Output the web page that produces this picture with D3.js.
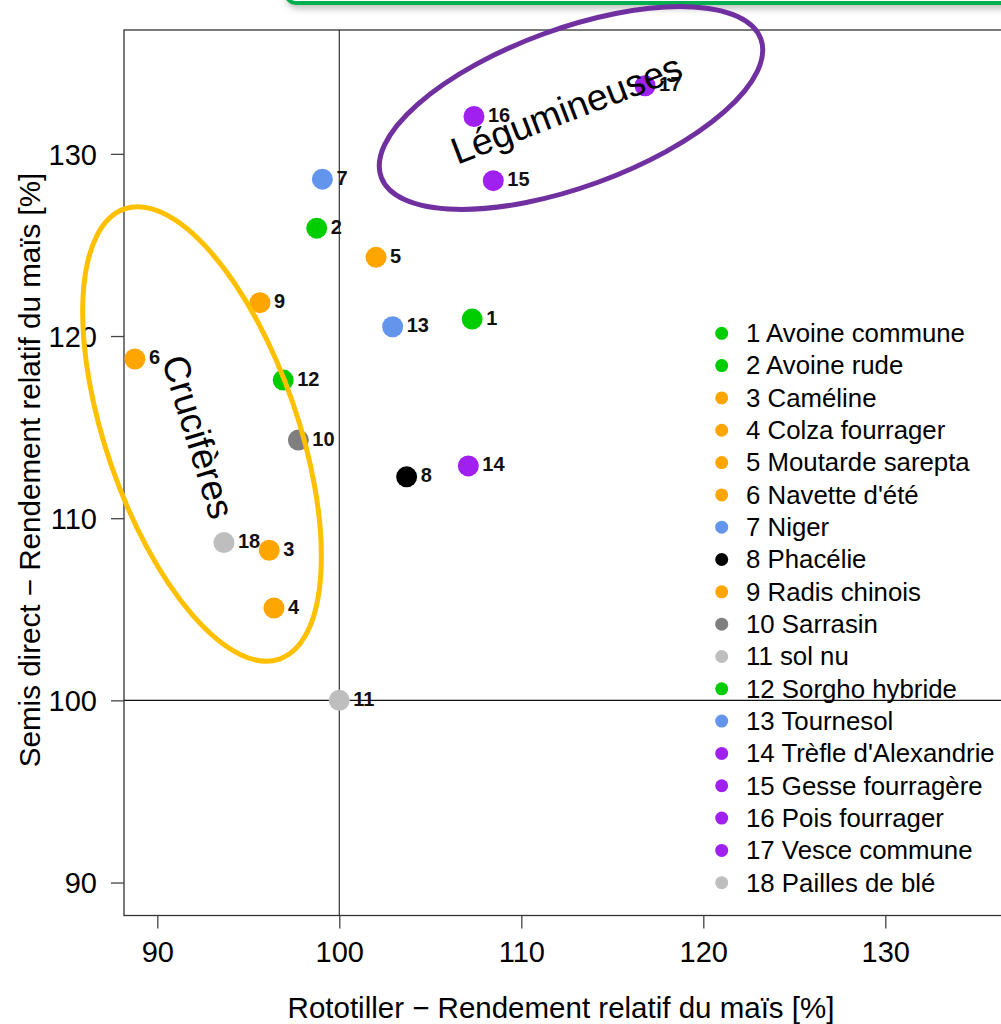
<!DOCTYPE html>
<html>

<head>
  <meta charset='utf-8'>
  <script type="text/javascript" src="https://cdn.jsdelivr.net/npm/d3@7/dist/d3.min.js"></script>
  <style>
    body { margin: 0; background: #fff; }
    svg text { font-family: "Liberation Sans", Arial, sans-serif; }
  </style>
</head>

<body>
</body>
<script>
  // data
  let ids = [1, 2, 3, 4, 5, 6, 7, 8, 9, 10, 11, 12, 13, 14, 15, 16, 17, 18]
  let names = ["Avoine commune", "Avoine rude", "Caméline", "Colza fourrager", "Moutarde sarepta",
    "Navette d'été", "Niger", "Phacélie", "Radis chinois", "Sarrasin", "sol nu", "Sorgho hybride",
    "Tournesol", "Trèfle d'Alexandrie", "Gesse fourragère", "Pois fourrager", "Vesce commune", "Pailles de blé"]
  let rototiller = [107.3, 98.76, 96.15, 96.41, 102.02, 88.77, 99.07, 103.7, 95.64, 97.75, 100, 96.92,
    102.93, 107.09, 108.46, 107.4, 116.8, 93.66]
  let semis = [120.93, 125.92, 108.24, 105.07, 124.32, 118.74, 128.61, 112.27, 121.83, 114.29, 100, 117.58,
    120.51, 112.87, 128.53, 132.05, 133.74, 108.66]
  let colors = ["#00CD00", "#00CD00", "#FFA500", "#FFA500", "#FFA500", "#FFA500", "#6495ED", "#000000",
    "#FFA500", "#7F7F7F", "#BEBEBE", "#00CD00", "#6495ED", "#A020F0", "#A020F0", "#A020F0", "#A020F0", "#BEBEBE"]
  let ticks = [90, 100, 110, 120, 130]

  let w = 1001
  let h = 1024
  let pLeft = 124, pTop = 30, pBottom = 915.5, pRight = 1012.7

  let xScale = d3.scaleLinear()
    .domain([88.17, 137])
    .range([pLeft, pRight])
  let yScale = d3.scaleLinear()
    .domain([88.19, 136.8])
    .range([pBottom, pTop])

  let svg = d3.select('body')
    .append('svg')
    .attr('width', w)
    .attr('height', h)

  // slide box at top
  let defs = svg.append("defs")
  let f = defs.append("filter").attr("id", "shadow").attr("x", "-10%").attr("y", "-50%").attr("width", "130%").attr("height", "300%")
  f.append("feDropShadow").attr("dx", 2).attr("dy", 4).attr("stdDeviation", 3)
    .attr("flood-color", "#888").attr("flood-opacity", 0.5)
  svg.append("rect")
    .attr("x", 286).attr("y", -60).attr("width", 800).attr("height", 63).attr("rx", 10)
    .attr("fill", "#fff").attr("stroke", "#00B050").attr("stroke-width", 4)
    .attr("filter", "url(#shadow)")

  // box
  svg.append("rect")
    .attr("x", pLeft).attr("y", pTop)
    .attr("width", pRight - pLeft).attr("height", pBottom - pTop)
    .attr("fill", "none").attr("stroke", "#333").attr("stroke-width", 1.3)

  // reference lines
  svg.append("line")
    .attr("x1", xScale(100)).attr("x2", xScale(100))
    .attr("y1", pTop).attr("y2", pBottom)
    .attr("stroke", "#333").attr("stroke-width", 1.2)
  svg.append("line")
    .attr("x1", pLeft).attr("x2", w)
    .attr("y1", yScale(100)).attr("y2", yScale(100))
    .attr("stroke", "#111").attr("stroke-width", 1.2)

  //axis
  let xAxis = d3.axisBottom(xScale).tickValues(ticks).tickSize(13).tickPadding(13)
  let gx = svg.append("g")
    .attr("transform", "translate(0," + pBottom + ")")
    .call(xAxis)
  let yAxis = d3.axisLeft(yScale).tickValues(ticks).tickSize(13).tickPadding(14)
  let gy = svg.append("g")
    .attr("transform", "translate(" + pLeft + ",0)")
    .call(yAxis)
  svg.selectAll(".domain").remove()
  svg.selectAll(".tick line").attr("stroke", "#444").attr("stroke-width", 1.3)
  svg.selectAll(".tick text").attr("font-size", 29).attr("fill", "#000")
    .attr("font-family", "'Liberation Sans', Arial, sans-serif")
  gx.selectAll(".tick text").attr("dy", "0.71em")
  gy.selectAll(".tick text").attr("dy", "0.36em")

  svg.append("text")
    .attr("x", 561).attr("y", 1018)
    .attr("text-anchor", "middle").attr("font-size", 29.5)
    .text("Rototiller − Rendement relatif du maïs [%]")
  svg.append("text")
    .attr("transform", "translate(40,470) rotate(-90)")
    .attr("text-anchor", "middle").attr("font-size", 29.6)
    .text("Semis direct − Rendement relatif du maïs [%]")

  // points
  svg.selectAll("circle.pt")
    .data(ids)
    .enter()
    .append("circle")
    .attr("class", "pt")
    .attr("cx", (d, i) => xScale(rototiller[i]))
    .attr("cy", (d, i) => yScale(semis[i]))
    .attr("r", 10.5)
    .attr("fill", (d, i) => colors[i])

  svg.selectAll("text.lab")
    .data(ids)
    .enter()
    .append("text")
    .attr("class", "lab")
    .attr("x", (d, i) => xScale(rototiller[i]) + 14)
    .attr("y", (d, i) => yScale(semis[i]) + 5.5)
    .attr("font-size", 20)
    .attr("font-weight", "bold")
    .attr("fill", "#111")
    .text(d => d)

  // legend
  let legend = svg.append("g")
  let legY = d3.scaleLinear().domain([0, 17]).range([333.3, 882.7])
  legend.selectAll("circle")
    .data(ids)
    .enter()
    .append("circle")
    .attr("cx", 721.7)
    .attr("cy", (d, i) => legY(i))
    .attr("r", 6.5)
    .attr("fill", (d, i) => colors[i])
  legend.selectAll("text")
    .data(ids)
    .enter()
    .append("text")
    .attr("x", 746)
    .attr("y", (d, i) => legY(i) + 8.8)
    .attr("font-size", 25.8)
    .attr("fill", "#000")
    .text((d, i) => d + " " + names[i])

  // annotations
  svg.append("ellipse")
    .attr("transform", "translate(202,434) rotate(71)")
    .attr("rx", 238).attr("ry", 96)
    .attr("fill", "none").attr("stroke", "#FFC000").attr("stroke-width", 5)
  svg.append("text")
    .attr("transform", "translate(198,437) rotate(73)")
    .attr("text-anchor", "middle").attr("dominant-baseline", "central")
    .attr("font-size", 37)
    .text("Crucifères")

  svg.append("ellipse")
    .attr("transform", "translate(571,108) rotate(-20)")
    .attr("rx", 202).attr("ry", 79)
    .attr("fill", "none").attr("stroke", "#7030A0").attr("stroke-width", 5)
  svg.append("text")
    .attr("transform", "translate(571,121) rotate(-21)")
    .attr("text-anchor", "middle")
    .attr("font-size", 37.5)
    .text("Légumineuses")
</script>

</html>
